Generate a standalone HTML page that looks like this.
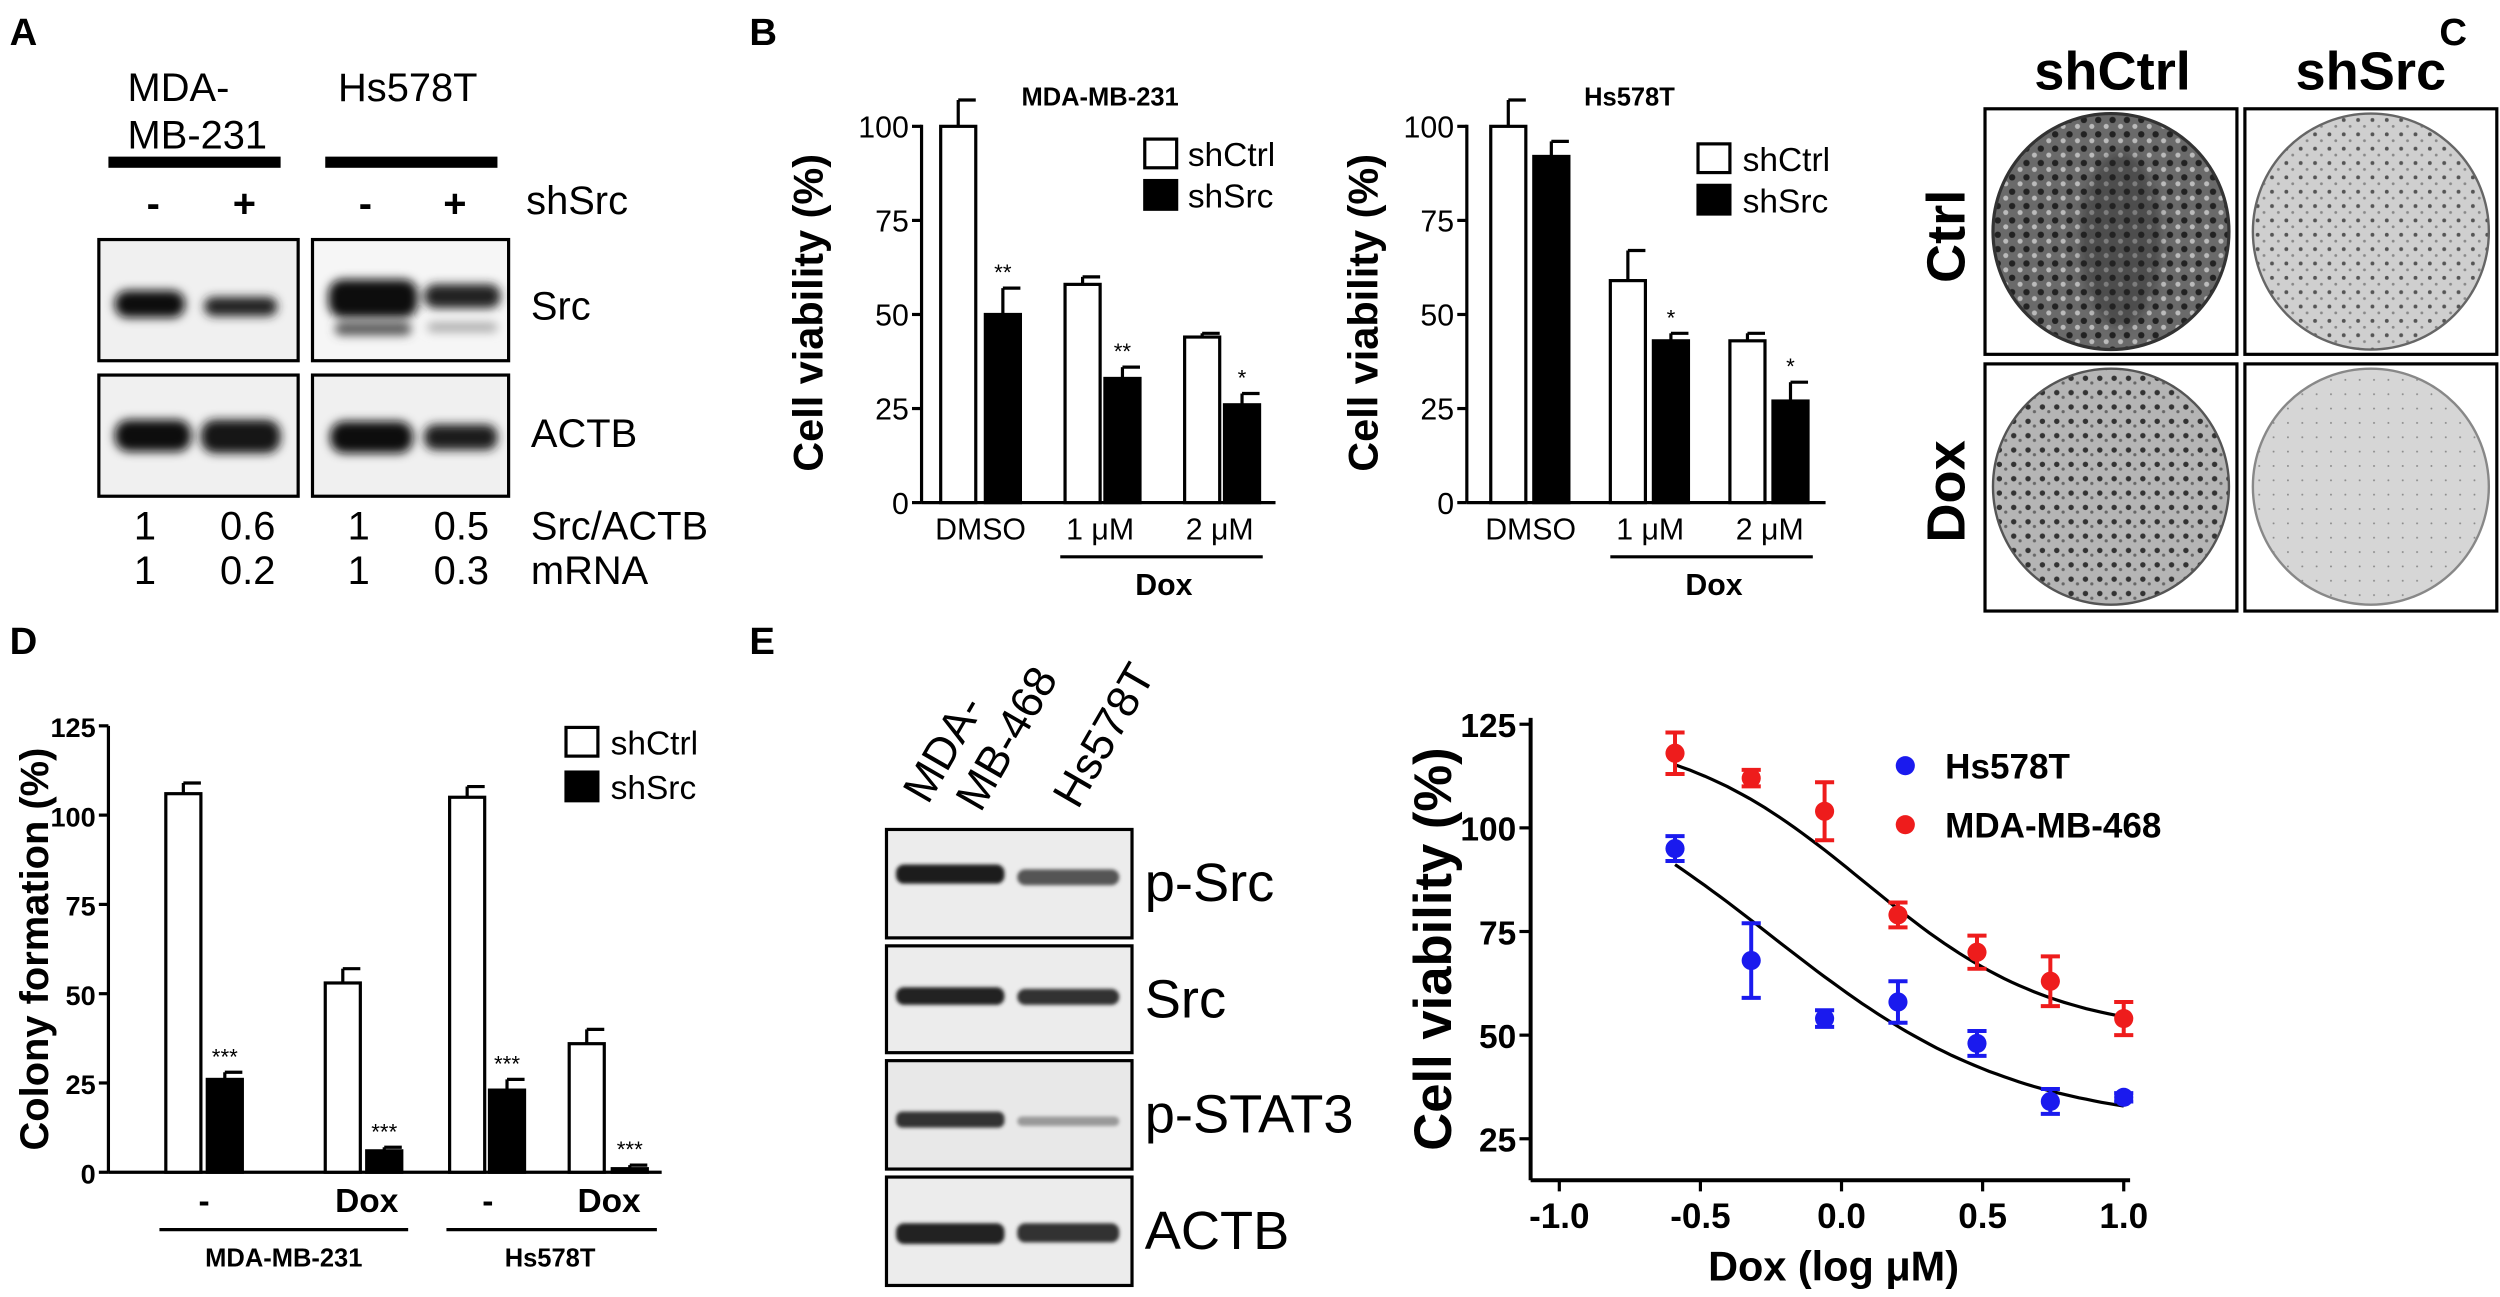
<!DOCTYPE html>
<html><head><meta charset="utf-8"><style>
html,body{margin:0;padding:0;background:#fff}
svg{display:block}
text{font-family:"Liberation Sans",Arial,sans-serif;fill:#000}
</style></head><body>
<svg id="s" width="2500" height="1297" viewBox="0 0 1568 813" xmlns="http://www.w3.org/2000/svg">
<defs>
<filter id="bl" x="-20%" y="-50%" width="140%" height="200%"><feGaussianBlur stdDeviation="3"/></filter>
<filter id="bl2"><feGaussianBlur stdDeviation="1.2"/></filter>
<pattern id="dots1" width="9" height="9" patternUnits="userSpaceOnUse"><rect width="9" height="9" fill="#6a6a6a"/><circle cx="2" cy="3" r="2" fill="#222"/><circle cx="7" cy="7" r="1.6" fill="#bbb"/></pattern>
<pattern id="dots2" width="9" height="9" patternUnits="userSpaceOnUse"><rect width="9" height="9" fill="#cfcfcf"/><circle cx="3" cy="3" r="1.2" fill="#555"/><circle cx="7" cy="7" r="0.9" fill="#888"/></pattern>
<pattern id="dots3" width="9" height="9" patternUnits="userSpaceOnUse"><rect width="9" height="9" fill="#b5b5b5"/><circle cx="3" cy="3" r="1.7" fill="#333"/><circle cx="7" cy="6" r="1" fill="#666"/></pattern>
<pattern id="dots4" width="9" height="9" patternUnits="userSpaceOnUse"><rect width="9" height="9" fill="#d6d6d6"/><circle cx="4" cy="4" r="0.6" fill="#888"/></pattern>
</defs>
<g font-weight="bold">
<text x="6" y="28" font-size="24">A</text>
<text x="470" y="28" font-size="24">B</text>
<text x="1530" y="28" font-size="24">C</text>
<text x="6" y="410" font-size="24">D</text>
<text x="470" y="410" font-size="24">E</text>
</g>
<!-- Panel A -->
<g font-size="25">
<text x="80" y="63">MDA-</text><text x="80" y="93">MB-231</text>
<text x="212" y="63">Hs578T</text>
<rect x="68" y="98" width="108" height="7"/><rect x="204" y="98" width="108" height="7"/>
<text x="92" y="136" font-weight="bold">-</text><text x="146" y="136" font-weight="bold">+</text>
<text x="225" y="136" font-weight="bold">-</text><text x="278" y="136" font-weight="bold">+</text>
<text x="330" y="134">shSrc</text>
<rect x="62" y="150" width="125" height="76" fill="#f0f0f0" stroke="#000" stroke-width="2"/>
<rect x="196" y="150" width="123" height="76" fill="#f6f6f6" stroke="#000" stroke-width="2"/>
<rect x="62" y="235" width="125" height="76" fill="#f0f0f0" stroke="#000" stroke-width="2"/>
<rect x="196" y="235" width="123" height="76" fill="#f0f0f0" stroke="#000" stroke-width="2"/>
<g filter="url(#bl)">
<rect x="72" y="182" width="44" height="17" rx="8" fill="#111"/>
<rect x="128" y="186" width="46" height="12" rx="6" fill="#222"/>
<rect x="206" y="175" width="56" height="24" rx="9" fill="#111"/>
<rect x="266" y="178" width="48" height="15" rx="7" fill="#222"/>
<rect x="210" y="202" width="48" height="8" rx="4" fill="#555"/>
<rect x="268" y="202" width="44" height="6" rx="3" fill="#aaa"/>
<rect x="72" y="263" width="48" height="20" rx="9" fill="#111"/>
<rect x="126" y="263" width="50" height="21" rx="9" fill="#151515"/>
<rect x="207" y="264" width="52" height="20" rx="9" fill="#111"/>
<rect x="266" y="266" width="46" height="16" rx="7" fill="#1a1a1a"/>
</g>
<text x="333" y="200">Src</text><text x="333" y="280">ACTB</text>
<text x="84" y="338">1</text><text x="138" y="338">0.6</text><text x="218" y="338">1</text><text x="272" y="338">0.5</text><text x="333" y="338">Src/ACTB</text>
<text x="84" y="366">1</text><text x="138" y="366">0.2</text><text x="218" y="366">1</text><text x="272" y="366">0.3</text><text x="333" y="366">mRNA</text>
</g>
<!-- Panel C -->
<g>
<text x="1325" y="56" font-size="34" text-anchor="middle" font-weight="bold">shCtrl</text>
<text x="1487" y="56" font-size="34" text-anchor="middle" font-weight="bold">shSrc</text>
<text transform="translate(1232,148) rotate(-90)" font-size="34" text-anchor="middle" font-weight="bold">Ctrl</text>
<text transform="translate(1232,308) rotate(-90)" font-size="34" text-anchor="middle" font-weight="bold">Dox</text>
<rect x="1245" y="68" width="158" height="154" fill="#fff" stroke="#000" stroke-width="2"/>
<rect x="1408" y="68" width="158" height="154" fill="#fff" stroke="#000" stroke-width="2"/>
<rect x="1245" y="228" width="158" height="155" fill="#fff" stroke="#000" stroke-width="2"/>
<rect x="1408" y="228" width="158" height="155" fill="#fff" stroke="#000" stroke-width="2"/>
<circle cx="1324" cy="145" r="74" fill="url(#dots1)" stroke="#333" stroke-width="2"/>
<circle cx="1487" cy="145" r="74" fill="url(#dots2)" stroke="#666" stroke-width="1.5"/>
<circle cx="1324" cy="305" r="74" fill="url(#dots3)" stroke="#555" stroke-width="1.5"/>
<circle cx="1487" cy="305" r="74" fill="url(#dots4)" stroke="#888" stroke-width="1.5"/>
<ellipse cx="1330" cy="150" rx="25" ry="55" fill="#222" opacity="0.4" filter="url(#bl)"/>
</g>
<!-- Panel E blots -->
<g font-size="34">
<text transform="translate(582,505) rotate(-60)" font-size="28">MDA-</text>
<text transform="translate(615,510) rotate(-60)" font-size="28">MB-468</text>
<text transform="translate(676,508) rotate(-60)" font-size="28">Hs578T</text>
<rect x="556" y="520" width="154" height="68" fill="#ececec" stroke="#000" stroke-width="2"/>
<rect x="556" y="593" width="154" height="67" fill="#ececec" stroke="#000" stroke-width="2"/>
<rect x="556" y="665" width="154" height="68" fill="#e8e8e8" stroke="#000" stroke-width="2"/>
<rect x="556" y="738" width="154" height="68" fill="#ececec" stroke="#000" stroke-width="2"/>
<g filter="url(#bl2)">
<rect x="562" y="542" width="68" height="12" rx="5" fill="#1a1a1a"/>
<rect x="638" y="545" width="64" height="10" rx="5" fill="#555"/>
<rect x="562" y="619" width="68" height="11" rx="5" fill="#222"/>
<rect x="638" y="620" width="64" height="10" rx="5" fill="#333"/>
<rect x="562" y="697" width="68" height="10" rx="4" fill="#333"/>
<rect x="638" y="700" width="64" height="6" rx="3" fill="#999"/>
<rect x="562" y="767" width="68" height="13" rx="5" fill="#222"/>
<rect x="638" y="767" width="64" height="12" rx="5" fill="#333"/>
</g>
<text x="718" y="565">p-Src</text><text x="718" y="638">Src</text><text x="718" y="710">p-STAT3</text><text x="718" y="783">ACTB</text>
</g>
<g id="gE"></g>
</svg>
<script>
const NS="http://www.w3.org/2000/svg";
function el(p,t,a,txt){const e=document.createElementNS(NS,t);for(const k in a)e.setAttribute(k,a[k]);if(txt!==undefined)e.textContent=txt;p.appendChild(e);return e;}
const s=document.getElementById('s');
function barChart(o){
 const g=el(s,'g',{});
 const y=v=>o.y0-v*o.k;
 el(g,'line',{x1:o.ax,y1:o.top,x2:o.ax,y2:o.y0,stroke:'#000','stroke-width':2});
 el(g,'line',{x1:o.ax,y1:o.y0,x2:o.xend,y2:o.y0,stroke:'#000','stroke-width':2});
 o.ticks.forEach(t=>{el(g,'line',{x1:o.ax-6,y1:y(t),x2:o.ax,y2:y(t),stroke:'#000','stroke-width':2});
  el(g,'text',{x:o.ax-8,y:y(t)+7,'text-anchor':'end','font-size':o.tfs||19,'font-weight':o.tfw||'normal'},t);});
 o.bars.forEach(b=>{
  el(g,'line',{x1:b[0]+o.w/2,y1:y(b[1]),x2:b[0]+o.w/2,y2:y(b[1]+b[2]),stroke:'#000','stroke-width':2});
  el(g,'line',{x1:b[0]+o.w/2-0,y1:y(b[1]+b[2]),x2:b[0]+o.w,y2:y(b[1]+b[2]),stroke:'#000','stroke-width':2});
  el(g,'rect',{x:b[0],y:y(b[1]),width:o.w,height:b[1]*o.k,fill:b[3]?'#000':'#fff',stroke:'#000','stroke-width':2});
  if(b[4])el(g,'text',{x:b[0]+o.w/2,y:y(b[1]+b[2])-5,'text-anchor':'middle','font-size':14},b[4]);
 });
 el(g,'text',{transform:`translate(${o.ylx},${o.yly}) rotate(-90)`,'text-anchor':'middle','font-size':o.yfs||26,'font-weight':'bold'},o.ylab);
 return g;
}
// B left
let g=barChart({ax:578,top:78,y0:315,k:2.36,xend:800,w:22,ticks:[0,25,50,75,100],ylab:'Cell viability (%)',ylx:516,yly:196,
 bars:[[590,100,7,0],[618,50,7,1,'**'],[668,58,2,0],[693,33,3,1,'**'],[743,44,1,0],[768,26,3,1,'*']]});
el(g,'text',{x:690,y:66,'text-anchor':'middle','font-size':16,'font-weight':'bold'},'MDA-MB-231');
[['DMSO',615],['1 μM',690],['2 μM',765]].forEach(a=>el(g,'text',{x:a[1],y:338,'text-anchor':'middle','font-size':19},a[0]));
el(g,'line',{x1:665,y1:349,x2:792,y2:349,stroke:'#000','stroke-width':2});
el(g,'text',{x:730,y:373,'text-anchor':'middle','font-size':19,'font-weight':'bold'},'Dox');
el(g,'rect',{x:718,y:87,width:20,height:18,fill:'#fff',stroke:'#000','stroke-width':2});
el(g,'rect',{x:718,y:113,width:20,height:18,fill:'#000',stroke:'#000','stroke-width':2});
el(g,'text',{x:745,y:104,'font-size':21},'shCtrl');el(g,'text',{x:745,y:130,'font-size':21},'shSrc');
// B right
g=barChart({ax:920,top:78,y0:315,k:2.36,xend:1145,w:22,ticks:[0,25,50,75,100],ylab:'Cell viability (%)',ylx:864,yly:196,
 bars:[[935,100,7,0],[962,92,4,1],[1010,59,8,0],[1037,43,2,1,'*'],[1085,43,2,0],[1112,27,5,1,'*']]});
el(g,'text',{x:1022,y:66,'text-anchor':'middle','font-size':16,'font-weight':'bold'},'Hs578T');
[['DMSO',960],['1 μM',1035],['2 μM',1110]].forEach(a=>el(g,'text',{x:a[1],y:338,'text-anchor':'middle','font-size':19},a[0]));
el(g,'line',{x1:1010,y1:349,x2:1137,y2:349,stroke:'#000','stroke-width':2});
el(g,'text',{x:1075,y:373,'text-anchor':'middle','font-size':19,'font-weight':'bold'},'Dox');
el(g,'rect',{x:1065,y:90,width:20,height:18,fill:'#fff',stroke:'#000','stroke-width':2});
el(g,'rect',{x:1065,y:116,width:20,height:18,fill:'#000',stroke:'#000','stroke-width':2});
el(g,'text',{x:1093,y:107,'font-size':21},'shCtrl');el(g,'text',{x:1093,y:133,'font-size':21},'shSrc');
// D
g=barChart({ax:68,top:455,y0:735,k:2.24,xend:415,w:22,tfs:17,tfw:'bold',ticks:[0,25,50,75,100,125],ylab:'Colony formation (%)',ylx:30,yly:595,yfs:25,
 bars:[[104,106,3,0],[130,26,2,1,'***'],[204,53,4,0],[230,6,1,1,'***'],[282,105,3,0],[307,23,3,1,'***'],[357,36,4,0],[384,1,1,1,'***']]});
[['-',128],['Dox',230],['-',306],['Dox',382]].forEach(a=>el(g,'text',{x:a[1],y:760,'text-anchor':'middle','font-size':21,'font-weight':'bold'},a[0]));
el(g,'line',{x1:100,y1:771,x2:256,y2:771,stroke:'#000','stroke-width':2});
el(g,'line',{x1:280,y1:771,x2:412,y2:771,stroke:'#000','stroke-width':2});
el(g,'text',{x:178,y:794,'text-anchor':'middle','font-size':16,'font-weight':'bold'},'MDA-MB-231');
el(g,'text',{x:345,y:794,'text-anchor':'middle','font-size':16,'font-weight':'bold'},'Hs578T');
el(g,'rect',{x:355,y:456,width:20,height:18,fill:'#fff',stroke:'#000','stroke-width':2});
el(g,'rect',{x:355,y:484,width:20,height:18,fill:'#000',stroke:'#000','stroke-width':2});
el(g,'text',{x:383,y:473,'font-size':21},'shCtrl');el(g,'text',{x:383,y:501,'font-size':21},'shSrc');
// E curve
const ge=document.getElementById('gE');
const X=v=>1155+v*177, Y=v=>714-(v-25)*2.6;
el(ge,'line',{x1:960,y1:450,x2:960,y2:740,stroke:'#000','stroke-width':2.5});
el(ge,'line',{x1:960,y1:740,x2:1336,y2:740,stroke:'#000','stroke-width':2.5});
[25,50,75,100,125].forEach(t=>{el(ge,'line',{x1:953,y1:Y(t),x2:960,y2:Y(t),stroke:'#000','stroke-width':2});
 el(ge,'text',{x:951,y:Y(t)+8,'text-anchor':'end','font-size':21,'font-weight':'bold'},t);});
[-1,-0.5,0,0.5,1].forEach(t=>{el(ge,'line',{x1:X(t),y1:740,x2:X(t),y2:747,stroke:'#000','stroke-width':2});
 el(ge,'text',{x:X(t),y:770,'text-anchor':'middle','font-size':22,'font-weight':'bold'},t.toFixed(1));});
el(ge,'text',{transform:'translate(910,595) rotate(-90)','text-anchor':'middle','font-size':33,'font-weight':'bold'},'Cell viability (%)');
el(ge,'text',{x:1150,y:803,'text-anchor':'middle','font-size':26,'font-weight':'bold'},'Dox (log μM)');
const xs=[-0.59,-0.32,-0.06,0.2,0.48,0.74,1.0];
const red=[[118,5],[112,2],[104,7],[79,3],[70,4],[63,6],[54,4]];
const blue=[[95,3],[68,9],[54,2],[58,5],[48,3],[34,3],[35,1]];
function curve(top,bot,ec,h){let d='';for(let i=0;i<=60;i++){const x=-0.59+i*1.59/60;const v=bot+(top-bot)/(1+Math.pow(10,(x-ec)*h));d+=(i?'L':'M')+X(x).toFixed(1)+','+Y(v).toFixed(1);}el(ge,'path',{d,fill:'none',stroke:'#000','stroke-width':2});}
curve(124,50,0.08,1.3);curve(120,28,-0.25,1.0);
function pts(arr,col){arr.forEach((p,i)=>{const x=X(xs[i]);el(ge,'line',{x1:x,y1:Y(p[0]-p[1]),x2:x,y2:Y(p[0]+p[1]),stroke:col,'stroke-width':2.5});
 [p[0]-p[1],p[0]+p[1]].forEach(v=>el(ge,'line',{x1:x-6,y1:Y(v),x2:x+6,y2:Y(v),stroke:col,'stroke-width':2.5}));
 el(ge,'circle',{cx:x,cy:Y(p[0]),r:6,fill:col});});}
pts(red,'#ee1c1c');pts(blue,'#1a1aee');
el(ge,'circle',{cx:1195,cy:480,r:6,fill:'#1a1aee'});el(ge,'text',{x:1220,y:488,'font-size':22,'font-weight':'bold'},'Hs578T');
el(ge,'circle',{cx:1195,cy:517,r:6,fill:'#ee1c1c'});el(ge,'text',{x:1220,y:525,'font-size':22,'font-weight':'bold'},'MDA-MB-468');
</script>
</body></html>
